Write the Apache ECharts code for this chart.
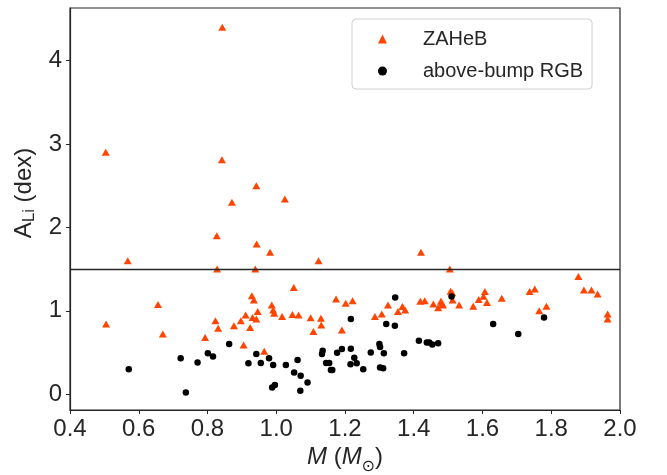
<!DOCTYPE html>
<html>
<head>
<meta charset="utf-8">
<script src="https://cdn.jsdelivr.net/npm/echarts@6/dist/echarts.min.js"></script>
<style>
html,body{margin:0;padding:0;background:#fff;}
#chart{width:667px;height:475px;}
</style>
</head>
<body>
<div id="chart"></div>
<script>
// ZAHeB (triangles)
const zahebMass = [0.843,0.504,0.842,0.942,0.871,1.025,0.827,0.943,0.568,0.828,0.939,0.982,1.123,1.421,1.505,1.051,0.929,0.935,0.656,0.946,0.911,0.931,0.942,0.823,0.897,0.877,0.924,0.831,0.505,0.670,0.793,0.905,0.987,0.991,0.994,0.965,1.017,1.047,1.065,1.100,1.130,1.131,1.108,1.174,1.202,1.222,1.191,1.287,1.307,1.325,1.354,1.367,1.375,1.419,1.432,1.457,1.471,1.479,1.482,1.485,1.507,1.512,1.513,1.532,1.573,1.589,1.607,1.603,1.613,1.656,1.737,1.752,1.765,1.786,1.879,1.895,1.917,1.935,1.964,1.964];
const zahebALi = [4.40,2.90,2.81,2.50,2.30,2.34,1.90,1.80,1.60,1.50,1.50,1.70,1.60,1.70,1.50,1.28,1.18,1.13,1.075,0.99,0.95,0.92,0.90,0.88,0.88,0.82,0.80,0.79,0.84,0.72,0.68,0.59,1.07,1.01,0.97,0.515,0.93,0.955,0.95,0.915,0.91,0.83,0.75,1.14,1.09,1.12,0.77,0.93,0.96,1.07,0.99,1.05,1.01,1.115,1.12,1.08,1.035,1.115,1.09,1.07,1.235,1.215,1.13,1.07,1.055,1.135,1.23,1.175,1.10,1.15,1.23,1.26,1.00,1.055,1.41,1.25,1.25,1.20,0.96,0.90];
// above-bump RGB (circles)
const rgbMass = [0.571,0.722,0.737,0.771,0.801,0.816,0.863,0.919,0.942,0.955,0.979,0.991,0.988,0.996,1.028,1.062,1.052,1.071,1.070,1.091,1.135,1.133,1.145,1.154,1.159,1.163,1.177,1.191,1.217,1.227,1.216,1.234,1.253,1.217,1.275,1.300,1.302,1.313,1.302,1.311,1.320,1.345,1.346,1.372,1.415,1.438,1.445,1.454,1.471,1.510,1.631,1.704,1.779];
const rgbALi = [0.30,0.43,0.02,0.38,0.49,0.45,0.60,0.37,0.48,0.375,0.43,0.35,0.08,0.11,0.35,0.41,0.26,0.22,0.04,0.14,0.52,0.48,0.375,0.375,0.29,0.29,0.495,0.54,0.545,0.435,0.36,0.37,0.30,0.90,0.50,0.60,0.565,0.49,0.32,0.31,0.84,0.82,1.16,0.49,0.64,0.62,0.62,0.595,0.61,1.17,0.84,0.72,0.92];
const xTicks = [0.4,0.6,0.8,1.0,1.2,1.4,1.6,1.8,2.0];
const yTicks = [0,1,2,3,4];
const threshold = 1.5;
const seriesNames = ['ZAHeB','above-bump RGB'];

const FONT = 'Liberation Sans, Arial, sans-serif';
const TXT = '#262626';
const zip = (a,b) => a.map((v,i)=>[v,b[i]]);

const chart = echarts.init(document.getElementById('chart'), null, {renderer:'canvas'});
chart.setOption({
  animation:false,
  backgroundColor:'#fff',
  textStyle:{fontFamily:FONT, color:TXT},
  grid:{left:70, right:47, top:8, bottom:65, outerBoundsMode:'none', containLabel:false,
        show:true, borderColor:TXT, borderWidth:1.2, backgroundColor:'transparent'},
  legend:{
    orient:'vertical', left:352, top:19,
    itemWidth:9, itemHeight:9, itemGap:12,
    padding:[10,9,8,26],
    borderColor:'#d0d0d0', borderWidth:1, borderRadius:4, backgroundColor:'#fff',
    textStyle:{fontSize:20, color:TXT, fontFamily:FONT, padding:[0,0,0,31]},
    data:seriesNames
  },
  xAxis:{
    type:'value', min:0.4, max:2.0,
    name:'{i|M}  {n|(}{i|M}{s|⊙}{n|)}', nameLocation:'middle', nameGap:35,
    nameMoveOverlap:false,
    nameTextStyle:{rich:{
      i:{fontSize:24, fontStyle:'italic', fontFamily:FONT, color:TXT, padding:[0,0,6,0]},
      n:{fontSize:24, fontFamily:FONT, color:TXT, padding:[0,0,6,0]},
      s:{fontSize:16, fontFamily:'DejaVu Sans, '+FONT, color:TXT, padding:[13,0,0,0]}
    }},
    axisLine:{show:true, onZero:false, lineStyle:{color:TXT, width:1.2}},
    axisTick:{show:true, inside:false, length:4, lineStyle:{color:TXT, width:1}, customValues:xTicks},
    axisLabel:{fontSize:24, color:TXT, fontFamily:FONT, margin:7, customValues:xTicks, formatter:v=>v.toFixed(1)},
    splitLine:{show:false}
  },
  yAxis:{
    type:'value', min:-0.19, max:4.63,
    name:'{n|A}{s|Li}{n| (dex)}', nameLocation:'middle', nameGap:31, nameRotate:90,
    nameMoveOverlap:false,
    nameTextStyle:{padding:[0,0,0,32], rich:{
      n:{fontSize:24, fontFamily:FONT, color:TXT, padding:[0,0,3,0]},
      s:{fontSize:17, fontFamily:FONT, color:TXT, padding:[8,0,0,0]}
    }},
    axisLine:{show:true, onZero:false, lineStyle:{color:TXT, width:1.2}},
    axisTick:{show:true, inside:false, length:4, lineStyle:{color:TXT, width:1}, customValues:yTicks},
    axisLabel:{fontSize:24, color:TXT, fontFamily:FONT, margin:8, customValues:yTicks},
    splitLine:{show:false}
  },
  series:[
    {
      name:seriesNames[0], type:'scatter', symbol:'triangle', symbolSize:[8,7],
      itemStyle:{color:'#ff4500', opacity:1},
      data:zip(zahebMass, zahebALi),
      markLine:{silent:true, symbol:'none', label:{show:false},
        lineStyle:{color:TXT, width:1.4, type:'solid'},
        data:[{yAxis:threshold}]}
    },
    {
      name:seriesNames[1], type:'scatter', symbol:'circle', symbolSize:6.5,
      itemStyle:{color:'#000000', opacity:1},
      data:zip(rgbMass, rgbALi)
    }
  ]
});
</script>
</body>
</html>
